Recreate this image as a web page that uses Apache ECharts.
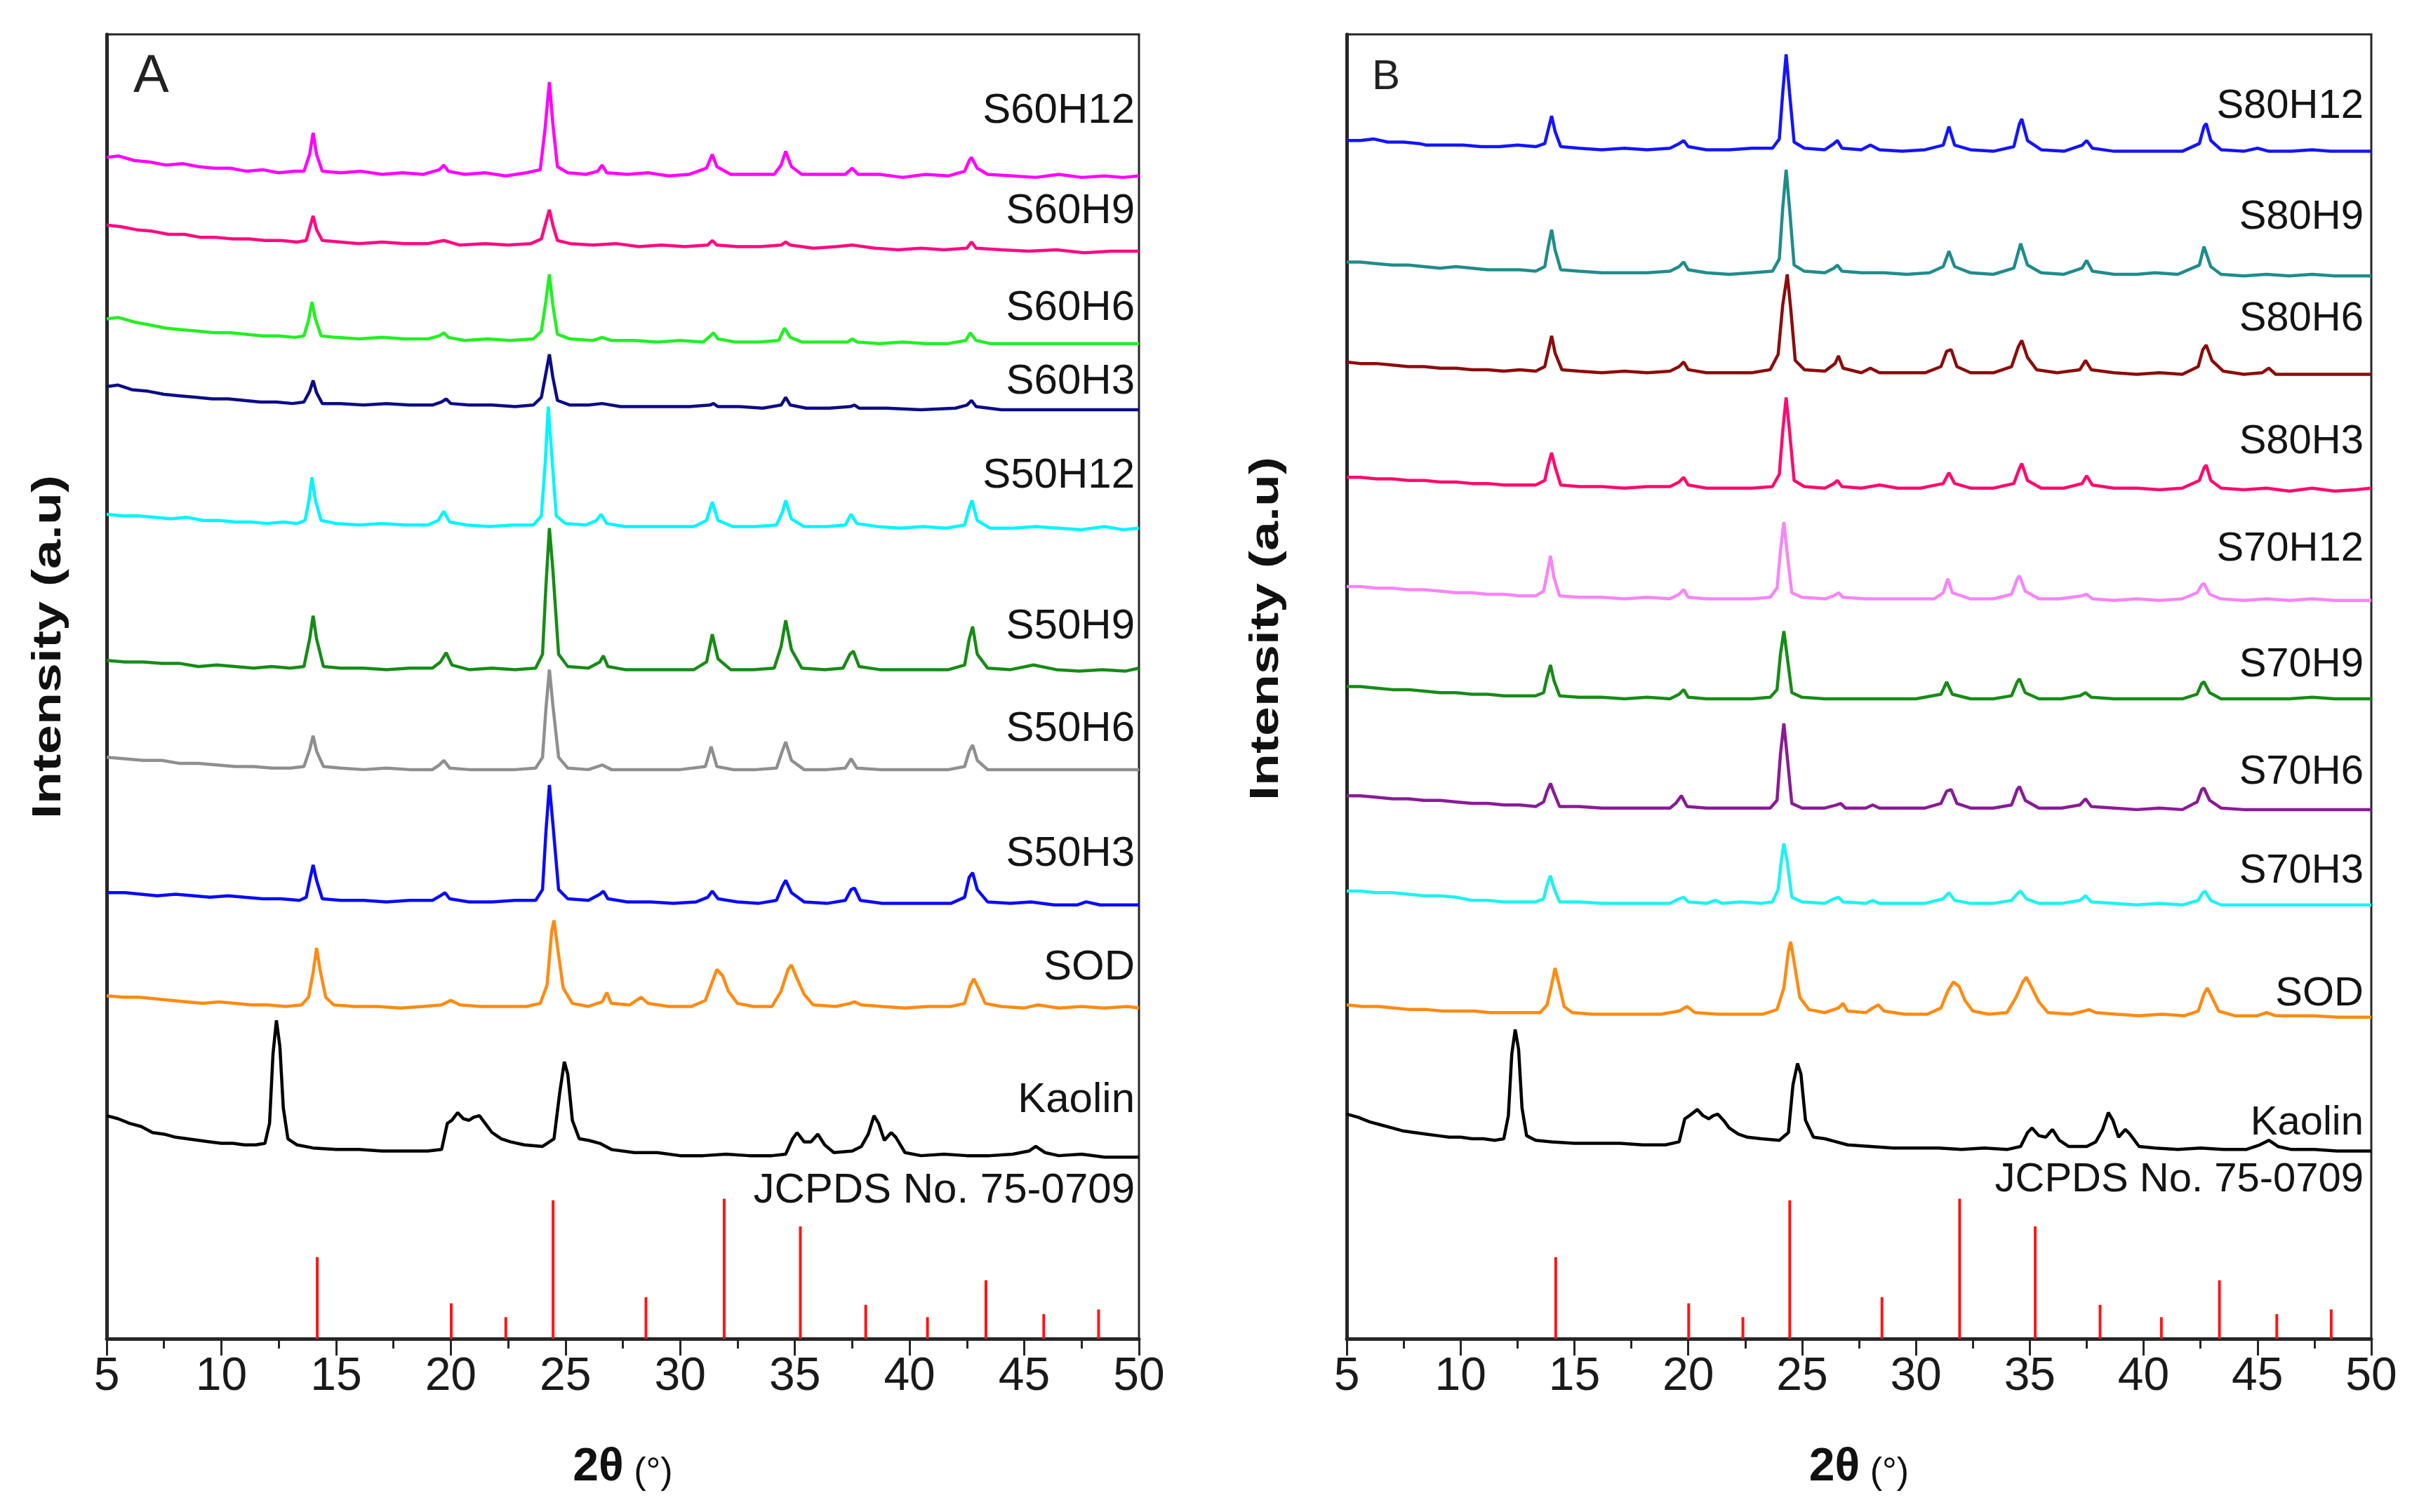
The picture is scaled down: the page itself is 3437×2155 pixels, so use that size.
<!DOCTYPE html>
<html>
<head>
<meta charset="utf-8">
<script src="https://cdn.jsdelivr.net/npm/echarts@6.0.0/dist/echarts.min.js"></script>
<style>
  html, body { margin: 0; padding: 0; background: #fff; }
  #main { width: 3437px; height: 2155px; }
</style>
</head>
<body>
<div id="main"></div>
<script>
// ---- panel A patterns: [2theta, intensity (a.u., stacked)] ----
const s60h12 = [[5,768],[5.5,769],[6.2,766],[6.9,765],[7.6,763],[8.3,764],[9,762],[9.7,761],[10.4,761],[11.1,759],[11.8,760],[12.5,758],[13.2,759],[13.6,759],[13.85,770],[14.0,784],[14.15,770],[14.4,759],[15.2,758],[16.1,759],[17,757],[17.9,758],[18.8,757],[19.5,760],[19.7,763],[19.9,759],[20.6,757],[21.5,758],[22.4,756],[23.3,758],[23.9,760],[24.1,785],[24.3,817],[24.45,790],[24.65,762],[25.1,758],[25.9,757],[26.4,759],[26.6,763],[26.8,758],[27.7,757],[28.6,758],[29.5,756],[30.4,757],[31.15,761],[31.4,770],[31.6,762],[32.2,757],[33.2,757],[34.1,757],[34.4,763],[34.6,772],[34.85,762],[35.3,757],[36.3,757],[37.2,757],[37.5,761],[37.75,757],[38.7,757],[39.7,755],[40.7,757],[41.7,756],[42.4,759],[42.6,766],[42.7,768],[42.95,761],[43.4,757],[44.5,756],[45.5,755],[46.5,757],[47.5,755],[48.5,756],[49.3,755],[50,756]];
const s60h9 = [[5,724],[5.6,723],[6.3,721],[7,720],[7.7,718],[8.4,718],[9.1,716],[9.8,716],[10.5,715],[11.2,715],[11.9,714],[12.6,714],[13.3,713],[13.7,714],[13.85,722],[14.0,730],[14.15,721],[14.4,714],[15.2,713],[16,712],[17,713],[18,712],[19,712],[19.7,714],[20.4,711],[21.5,712],[22.5,711],[23.5,712],[23.95,715],[24.15,726],[24.3,734],[24.45,724],[24.65,714],[25.2,712],[26.2,711],[27.2,712],[28.2,710],[29.2,711],[30.2,710],[31.2,711],[31.4,714],[31.6,711],[32.5,710],[33.5,710],[34.4,711],[34.6,713],[34.8,711],[35.8,709],[36.8,710],[37.5,711],[38.5,709],[39.5,708],[40.5,709],[41.5,708],[42.5,709],[42.7,713],[42.9,709],[44,708],[45.2,707],[46.4,708],[47.6,706],[48.8,707],[50,707]];
const s60h6 = [[5,663],[5.5,664],[6.2,661],[6.9,659],[7.6,657],[8.3,656],[9,655],[9.7,654],[10.4,654],[11.1,653],[11.8,652],[12.5,652],[13.2,651],[13.6,652],[13.8,662],[13.95,674],[14.1,663],[14.35,652],[15,651],[16,650],[17,651],[18,650],[19,650],[19.5,652],[19.7,654],[19.9,651],[20.6,649],[21.6,650],[22.6,649],[23.6,650],[23.95,655],[24.15,675],[24.3,692],[24.45,672],[24.65,653],[25.2,650],[26.2,649],[26.6,651],[27,649],[28,649],[29,648],[30,649],[31,648],[31.25,651],[31.45,654],[31.65,650],[32.4,648],[33.4,648],[34.3,649],[34.55,657],[34.8,651],[35.3,648],[36.3,648],[37.3,648],[37.5,650],[37.7,648],[38.7,647],[39.7,648],[40.7,647],[41.7,647],[42.45,649],[42.65,654],[42.9,649],[43.5,647],[44.5,647],[46,647],[47.5,647],[49,647],[50,647]];
const s60h3 = [[5,619],[5.5,620],[6.1,617],[6.8,616],[7.5,614],[8.2,613],[8.9,612],[9.6,611],[10.3,611],[11,610],[11.7,609],[12.4,609],[13.1,608],[13.6,609],[13.85,616],[14.0,623],[14.15,615],[14.4,608],[15.2,608],[16.2,607],[17.2,608],[18.2,607],[19.2,607],[19.6,609],[19.8,611],[20,608],[20.8,607],[21.8,607],[22.8,606],[23.6,607],[23.95,612],[24.15,628],[24.3,640],[24.45,625],[24.65,610],[25.2,607],[26,607],[26.6,608],[27.4,606],[28.4,606],[29.4,606],[30.4,606],[31.3,607],[31.45,608],[31.65,606],[32.6,606],[33.6,605],[34.4,607],[34.6,612],[34.8,607],[35.5,605],[36.5,605],[37.4,606],[37.6,607],[37.8,605],[39,605],[40.5,604],[42,605],[42.5,607],[42.7,610],[42.9,606],[44,604],[45.5,604],[47,604],[48.5,604],[50,604]];
const s50h12 = [[5,536],[5.7,535],[6.4,535],[7.1,534],[7.8,533],[8.5,534],[9.2,532],[9.9,532],[10.6,531],[11.3,531],[12,530],[12.7,531],[13.3,530],[13.65,532],[13.82,545],[13.95,560],[14.1,545],[14.35,532],[15,530],[16,529],[17,530],[18,529],[19,529],[19.45,532],[19.7,538],[19.95,531],[20.7,529],[21.7,528],[22.7,529],[23.6,529],[23.95,535],[24.12,570],[24.25,606],[24.4,575],[24.6,535],[25,530],[25.9,529],[26.35,532],[26.55,536],[26.8,530],[27.6,528],[28.6,528],[29.6,528],[30.6,528],[31.15,532],[31.4,544],[31.65,532],[32.3,528],[33.3,528],[34.2,529],[34.45,537],[34.6,545],[34.85,533],[35.4,528],[36.4,528],[37.2,529],[37.45,536],[37.7,530],[38.6,528],[39.6,527],[40.6,528],[41.6,527],[42.4,529],[42.6,540],[42.72,545],[42.95,532],[43.5,527],[44.5,527],[45.5,528],[46.5,527],[47.5,526],[48.5,528],[49.3,526],[50,527]];
const s50h9 = [[5,441],[5.8,440],[6.6,440],[7.4,439],[8.2,439],[9,437],[9.8,438],[10.6,437],[11.4,436],[12.2,437],[13,436],[13.6,437],[13.85,455],[14.0,470],[14.15,455],[14.45,437],[15.2,436],[16.2,436],[17.2,435],[18.2,436],[19.2,436],[19.55,440],[19.8,446],[20.05,438],[20.8,435],[21.8,436],[22.8,435],[23.7,436],[24.0,445],[24.15,490],[24.3,527],[24.45,500],[24.7,445],[25.1,437],[26,436],[26.5,440],[26.65,444],[26.85,437],[27.6,435],[28.6,435],[29.6,435],[30.6,435],[31.15,440],[31.4,458],[31.65,442],[32.2,435],[33.2,435],[34.1,436],[34.4,450],[34.6,467],[34.85,448],[35.3,436],[36.3,435],[37.1,436],[37.4,445],[37.55,447],[37.8,437],[38.7,435],[39.7,435],[40.7,435],[41.7,435],[42.4,438],[42.6,455],[42.75,463],[42.95,445],[43.4,436],[44.4,435],[45.4,438],[46.4,435],[47.4,434],[48.4,435],[49.4,434],[50,436]];
const s50h6 = [[5,378],[5.8,377],[6.6,376],[7.4,376],[8.2,374],[9,374],[9.8,373],[10.6,372],[11.4,372],[12.2,371],[13,371],[13.6,372],[13.85,383],[14.0,392],[14.15,382],[14.45,372],[15.2,371],[16.2,370],[17.2,371],[18.2,370],[19.2,370],[19.5,373],[19.7,376],[19.95,371],[20.8,370],[21.8,370],[22.8,370],[23.7,371],[24.0,378],[24.15,410],[24.3,435],[24.45,412],[24.7,378],[25.1,371],[26,370],[26.6,373],[27,370],[28,370],[29,370],[30,370],[31.1,372],[31.35,385],[31.6,372],[32.3,370],[33.3,370],[34.2,371],[34.45,382],[34.6,388],[34.85,376],[35.4,370],[36.4,370],[37.2,371],[37.45,377],[37.7,371],[38.7,370],[39.7,370],[40.7,370],[41.7,370],[42.4,372],[42.6,382],[42.75,386],[42.95,376],[43.4,370],[44.4,370],[45.5,370],[46.6,370],[47.7,370],[48.8,370],[50,370]];
const s50h3 = [[5,290],[5.8,290],[6.5,289],[7.2,288],[8,289],[8.8,288],[9.5,287],[10.3,288],[11,287],[11.8,286],[12.6,286],[13.4,285],[13.7,287],[13.85,298],[14.0,308],[14.15,298],[14.4,286],[15.2,285],[16.2,285],[17.2,284],[18.2,285],[19.2,285],[19.55,288],[19.75,290],[19.95,286],[20.8,284],[21.8,284],[22.8,285],[23.7,285],[24.0,292],[24.15,330],[24.3,360],[24.45,335],[24.7,292],[25.1,286],[26,285],[26.5,289],[26.65,291],[26.85,286],[27.7,284],[28.7,284],[29.7,283],[30.7,284],[31.2,287],[31.4,291],[31.65,286],[32.5,284],[33.4,283],[34.2,285],[34.45,294],[34.6,298],[34.85,290],[35.4,284],[36.4,283],[37.2,285],[37.45,292],[37.6,293],[37.85,285],[38.8,283],[39.8,283],[40.8,283],[41.8,283],[42.4,287],[42.6,300],[42.75,303],[42.95,292],[43.4,284],[44.4,283],[45.3,284],[46.3,282],[47.3,282],[47.7,284],[48.3,282],[49.2,282],[50,282]];
const sodA = [[5,223],[5.7,222],[6.4,222],[7.1,221],[7.8,220],[8.5,219],[9.2,218],[9.9,219],[10.6,218],[11.3,217],[12,217],[12.8,216],[13.5,217],[13.8,222],[14.0,238],[14.15,254],[14.3,240],[14.55,222],[14.9,217],[15.8,216],[16.8,216],[17.8,215],[18.8,216],[19.6,217],[20.0,220],[20.4,217],[21.3,216],[22.3,216],[23.3,216],[23.9,218],[24.2,230],[24.4,265],[24.5,272],[24.65,255],[24.9,228],[25.3,218],[26.0,216],[26.6,219],[26.8,225],[27.0,218],[27.8,217],[28.1,220],[28.3,222],[28.6,218],[29.5,216],[30.5,216],[31.1,220],[31.4,232],[31.6,240],[31.85,236],[32.1,226],[32.5,218],[33.2,216],[34.0,216],[34.4,226],[34.7,240],[34.85,243],[35.1,234],[35.4,224],[35.8,217],[36.8,216],[37.4,218],[37.6,219],[37.9,217],[38.8,216],[39.8,215],[40.8,216],[41.8,216],[42.4,218],[42.65,230],[42.8,234],[43.0,228],[43.3,218],[44,216],[45,215],[45.6,217],[46.5,215],[47.5,216],[48.5,215],[49.5,216],[50,215]];
const kaolinA = [[5,145],[5.5,143],[6,140],[6.5,138],[7,134],[7.5,133],[8,131],[8.5,130],[9,129],[9.5,128],[10,127],[10.5,127],[11,126],[11.5,126],[11.9,127],[12.1,140],[12.25,185],[12.4,207],[12.55,190],[12.7,150],[12.9,130],[13.3,126],[14,124],[15,123],[16,123],[17,122],[18,122],[19,122],[19.6,123],[19.85,140],[20.05,142],[20.3,147],[20.55,143],[20.8,142],[21.0,144],[21.25,145],[21.5,140],[21.8,134],[22.2,130],[22.6,128],[23.2,126],[24,125],[24.5,130],[24.75,160],[24.95,180],[25.1,172],[25.3,142],[25.6,130],[26,129],[26.5,127],[27,123],[28,121],[29,121],[30,119],[31,119],[32,120],[33,119],[34,119],[34.6,120],[34.9,130],[35.1,134],[35.4,128],[35.7,128],[36.0,133],[36.3,126],[36.7,121],[37.5,122],[37.9,125],[38.2,133],[38.45,145],[38.65,140],[38.9,129],[39.2,134],[39.4,131],[39.8,121],[40.5,119],[41.5,120],[42.5,119],[43.5,119],[44.5,120],[45.2,122],[45.5,125],[45.9,121],[46.5,119],[47.5,120],[48.5,118],[49.5,118],[50,118]];

// ---- panel B patterns ----
const s80h12 = [[5,779],[5.6,779],[6.2,780],[6.8,778],[7.5,778],[8.2,777],[8.5,776],[9.3,776],[10.1,776],[10.9,775],[11.7,775],[12.5,776],[13.3,775],[13.7,777],[13.85,786],[14.0,795],[14.15,785],[14.4,775],[15.2,774],[16.2,773],[17.2,774],[18.2,773],[19.2,774],[19.6,777],[19.8,779],[20.0,775],[20.8,773],[21.8,773],[22.8,774],[23.7,774],[24.0,780],[24.15,810],[24.3,835],[24.45,810],[24.65,778],[25.1,774],[26,773],[26.4,777],[26.55,779],[26.75,774],[27.6,773],[28,776],[28.4,773],[29.4,772],[30.4,773],[31.2,776],[31.45,788],[31.7,776],[32.4,773],[33.4,772],[34.3,775],[34.55,790],[34.65,793],[34.9,779],[35.5,773],[36.5,772],[37.3,776],[37.5,779],[37.75,774],[38.7,772],[39.7,772],[40.7,772],[41.7,772],[42.45,777],[42.65,788],[42.75,790],[42.95,779],[43.4,773],[44.4,772],[45,774],[45.5,772],[46.5,772],[47.4,773],[48.2,772],[49.2,772],[50,772]];
const s80h9 = [[5,700],[5.6,700],[6.3,699],[7,698],[7.7,698],[8.4,697],[9.1,696],[9.8,697],[10.5,696],[11.2,695],[11.9,695],[12.6,695],[13.3,694],[13.7,697],[13.85,710],[14.0,721],[14.15,708],[14.4,695],[15.2,694],[16.2,693],[17.2,693],[18.2,693],[19.2,694],[19.6,697],[19.8,700],[20.0,695],[20.8,693],[21.8,692],[22.8,693],[23.7,694],[24.0,702],[24.15,735],[24.3,760],[24.45,735],[24.65,698],[25.1,694],[26,693],[26.4,696],[26.55,698],[26.75,694],[27.6,693],[28.6,693],[29.6,692],[30.6,693],[31.2,697],[31.45,707],[31.7,697],[32.4,693],[33.4,692],[34.3,696],[34.6,712],[34.9,698],[35.5,693],[36.5,692],[37.3,696],[37.5,701],[37.75,694],[38.7,692],[39.7,692],[40.5,693],[41.5,692],[42.45,698],[42.65,710],[42.95,697],[43.4,692],[44.4,691],[45.4,692],[46.4,691],[47.4,692],[48.4,691],[49.2,691],[50,691]];
const s80h6 = [[5,635],[5.6,634],[6.3,634],[7,633],[7.7,632],[8.4,632],[9.1,631],[9.8,631],[10.5,630],[11.2,630],[11.9,629],[12.6,630],[13.3,629],[13.7,632],[13.85,642],[14.0,652],[14.15,641],[14.45,630],[15.2,629],[16.2,628],[17.2,629],[18.2,628],[19.2,629],[19.6,632],[19.8,635],[20.0,630],[20.8,628],[21.8,628],[22.8,628],[23.6,630],[23.95,640],[24.15,672],[24.35,692],[24.5,670],[24.7,636],[25.1,630],[26,629],[26.45,634],[26.6,639],[26.8,631],[27.6,628],[28,631],[28.4,628],[29.4,628],[30.4,628],[31.1,632],[31.35,642],[31.55,643],[31.8,632],[32.4,628],[33.4,628],[34.2,632],[34.5,645],[34.65,649],[34.9,638],[35.3,630],[36.2,628],[37.2,630],[37.45,636],[37.7,630],[38.7,628],[39.7,627],[40.7,628],[41.7,627],[42.4,632],[42.6,643],[42.75,646],[43.0,636],[43.5,629],[44.4,627],[45.2,628],[45.5,631],[45.8,627],[46.8,627],[47.8,627],[48.8,627],[50,627]];
const s80h3 = [[5,560],[5.6,560],[6.3,559],[7,559],[7.7,558],[8.4,558],[9.1,557],[9.8,557],[10.5,556],[11.2,556],[11.9,555],[12.6,555],[13.3,555],[13.7,558],[13.85,568],[14.0,576],[14.15,567],[14.4,555],[15.2,554],[16.2,554],[17.2,553],[18.2,554],[19.2,554],[19.6,557],[19.8,560],[20.0,555],[20.8,553],[21.8,553],[22.8,553],[23.7,554],[24.0,562],[24.15,590],[24.3,612],[24.45,590],[24.65,558],[25.1,554],[26,553],[26.4,556],[26.55,558],[26.75,554],[27.6,553],[28.4,555],[29.2,553],[30.2,553],[31.2,556],[31.45,563],[31.7,556],[32.4,553],[33.4,553],[34.3,556],[34.55,566],[34.65,569],[34.9,558],[35.5,553],[36.5,553],[37.3,556],[37.5,561],[37.75,555],[38.7,553],[39.7,553],[40.7,552],[41.7,553],[42.45,558],[42.65,566],[42.75,568],[42.95,558],[43.4,553],[44.4,552],[45.4,553],[46.4,551],[47.4,553],[48.4,551],[49.3,552],[50,553]];
const s70h12 = [[5,489],[5.6,489],[6.3,488],[7,488],[7.7,487],[8.4,487],[9.1,486],[9.8,485],[10.5,485],[11.2,484],[11.9,484],[12.6,483],[13.3,483],[13.65,486],[13.8,497],[13.95,509],[14.1,495],[14.35,483],[15.2,482],[16.2,482],[17.2,481],[18.2,482],[19.2,481],[19.6,484],[19.8,487],[20.0,482],[20.8,481],[21.8,481],[22.8,481],[23.6,482],[23.9,488],[24.05,512],[24.2,531],[24.35,510],[24.55,485],[25,482],[26,481],[26.4,483],[26.6,485],[26.8,482],[27.8,481],[28.8,481],[29.8,481],[30.8,481],[31.2,485],[31.4,494],[31.6,485],[32.4,481],[33.4,481],[34.2,484],[34.45,494],[34.55,496],[34.8,486],[35.4,481],[36.3,481],[37.3,483],[37.5,484],[37.75,481],[38.7,480],[39.7,481],[40.7,480],[41.7,481],[42.35,485],[42.55,490],[42.65,491],[42.9,484],[43.4,481],[44.4,480],[45.4,481],[46.4,480],[47.4,481],[48.4,480],[49.3,480],[50,480]];
const s70h9 = [[5,424],[5.6,424],[6.3,423],[7,422],[7.7,422],[8.4,421],[9.1,420],[9.8,420],[10.5,419],[11.2,419],[11.9,418],[12.6,418],[13.3,418],[13.65,420],[13.8,430],[13.95,438],[14.1,428],[14.35,418],[15.2,417],[16.2,417],[17.2,416],[18.2,417],[19.2,416],[19.6,419],[19.8,422],[20.0,417],[20.8,416],[21.8,416],[22.8,416],[23.6,417],[23.9,422],[24.05,445],[24.2,460],[24.35,443],[24.55,420],[25,417],[26,416],[27,416],[28,416],[29,416],[30,416],[31.1,419],[31.35,427],[31.6,419],[32.4,416],[33.4,416],[34.2,418],[34.45,427],[34.55,429],[34.8,420],[35.4,416],[36.4,416],[37.2,418],[37.45,420],[37.7,417],[38.7,416],[39.7,416],[40.7,416],[41.7,416],[42.35,419],[42.55,426],[42.65,427],[42.9,420],[43.4,416],[44.4,416],[45.4,416],[46.4,416],[47.4,417],[48.4,416],[49.3,416],[50,416]];
const s70h6 = [[5,353],[5.6,353],[6.3,352],[7,351],[7.7,351],[8.4,350],[9.1,350],[9.8,349],[10.5,348],[11.2,348],[11.9,347],[12.6,347],[13.3,346],[13.65,349],[13.8,356],[13.95,361],[14.1,355],[14.35,346],[15.2,346],[16.2,345],[17.2,345],[18.2,345],[19.2,345],[19.45,348],[19.7,353],[19.95,346],[20.8,345],[21.8,345],[22.8,345],[23.6,345],[23.9,350],[24.05,380],[24.2,400],[24.35,378],[24.55,348],[25,345],[26,345],[26.5,347],[26.7,348],[26.9,345],[27.8,345],[28.1,347],[28.4,345],[29.4,345],[30.4,345],[31.1,348],[31.35,356],[31.55,357],[31.8,348],[32.4,345],[33.4,345],[34.2,347],[34.45,357],[34.55,359],[34.8,350],[35.4,345],[36.4,345],[37.2,347],[37.45,351],[37.7,346],[38.7,345],[39.7,344],[40.7,345],[41.7,344],[42.35,349],[42.55,357],[42.65,358],[42.9,350],[43.4,345],[44.4,344],[45.4,344],[46.4,344],[47.4,344],[48.4,344],[49.3,344],[50,344]];
const s70h3 = [[5,291],[5.6,291],[6.3,290],[7,290],[7.7,289],[8.4,288],[9.1,288],[9.8,287],[10.5,285],[11.2,285],[11.9,284],[12.6,284],[13.3,284],[13.65,286],[13.8,295],[13.95,301],[14.1,293],[14.35,284],[15.2,284],[16.2,283],[17.2,283],[18.2,283],[19.2,283],[19.6,286],[19.8,287],[20.0,284],[20.8,283],[21.2,285],[21.5,283],[22.3,284],[23.2,283],[23.7,284],[23.95,292],[24.1,312],[24.2,322],[24.35,310],[24.55,287],[25,284],[26,283],[26.4,286],[26.6,287],[26.8,284],[27.8,283],[28.1,285],[28.4,283],[29.4,283],[30.4,283],[31.2,286],[31.45,290],[31.7,285],[32.4,283],[33.4,283],[34.2,285],[34.5,290],[34.6,291],[34.85,286],[35.4,283],[36.4,283],[37.2,285],[37.45,288],[37.7,284],[38.7,283],[39.7,282],[40.7,283],[41.7,282],[42.4,285],[42.6,290],[42.7,291],[42.95,285],[43.4,282],[44.4,282],[45.4,282],[46.4,282],[47.4,282],[48.4,282],[49.3,282],[50,282]];
const sodB = [[5,217],[5.7,216],[6.4,216],[7.1,215],[7.8,214],[8.5,214],[9.2,213],[9.9,213],[10.6,213],[11.3,212],[12,212],[12.8,212],[13.5,212],[13.8,217],[14.0,230],[14.15,241],[14.3,232],[14.55,216],[14.9,212],[15.8,211],[16.8,211],[17.8,211],[18.8,211],[19.6,213],[19.95,216],[20.3,212],[21.3,211],[22.3,211],[23.3,211],[23.9,214],[24.2,228],[24.4,252],[24.5,258],[24.65,245],[24.9,222],[25.3,214],[26.0,212],[26.6,215],[26.8,218],[27.0,213],[27.8,212],[28.1,215],[28.35,217],[28.6,213],[29.5,211],[30.5,211],[31.1,215],[31.4,226],[31.65,232],[31.9,229],[32.15,220],[32.5,213],[33.2,211],[34.0,212],[34.4,222],[34.7,232],[34.85,235],[35.1,228],[35.4,219],[35.8,212],[36.8,211],[37.4,213],[37.6,214],[37.9,212],[38.8,211],[39.8,210],[40.8,211],[41.8,210],[42.4,213],[42.65,224],[42.8,228],[43.0,222],[43.3,213],[44,210],[45,210],[45.4,212],[45.8,210],[46.5,210],[47.5,210],[48.5,209],[49.5,209],[50,209]];
const kaolinB = [[5,146],[5.5,144],[6,141],[6.5,139],[7,137],[7.5,135],[8,134],[8.5,133],[9,132],[9.5,131],[10,131],[10.5,130],[11,130],[11.5,129],[11.9,130],[12.1,145],[12.25,185],[12.4,201],[12.55,188],[12.7,150],[12.9,132],[13.3,129],[14,128],[15,127],[16,127],[17,127],[18,126],[19,126],[19.6,128],[19.85,143],[20.05,145],[20.4,149],[20.65,145],[20.9,143],[21.1,145],[21.3,146],[21.55,142],[21.8,137],[22.2,133],[22.6,131],[23.2,130],[24,129],[24.4,134],[24.6,165],[24.8,179],[24.95,172],[25.15,142],[25.5,131],[26,130],[26.5,128],[27,126],[28,125],[29,124],[30,124],[31,124],[32,123],[33,124],[34,123],[34.6,125],[34.9,134],[35.1,137],[35.4,132],[35.7,131],[36.0,136],[36.3,129],[36.7,125],[37.5,125],[37.9,128],[38.2,136],[38.45,147],[38.65,142],[38.9,131],[39.2,136],[39.4,133],[39.8,125],[40.5,124],[41.5,123],[42.5,124],[43.5,123],[44.5,123],[45.1,126],[45.5,129],[45.9,125],[46.5,123],[47.5,123],[48.5,122],[49.5,122],[50,122]];

// ---- JCPDS No. 75-0709 reference lines ----
const jcpdsPos = [14.18, 20.02, 22.40, 24.46, 28.51, 31.92, 35.24, 38.09, 40.78, 43.33, 45.85, 48.24];
const jcpdsInt = [53, 23, 14, 90, 27, 91, 73, 22, 14, 38, 16, 19];

// ---- names and label heights ----
const namesA = ['S60H12', 'S60H9', 'S60H6', 'S60H3', 'S50H12', 'S50H9', 'S50H6', 'S50H3', 'SOD', 'Kaolin'];
const namesB = ['S80H12', 'S80H9', 'S80H6', 'S80H3', 'S70H12', 'S70H9', 'S70H6', 'S70H3', 'SOD', 'Kaolin'];
const labelYA = [798, 733, 670, 622, 561, 463, 396, 315, 241, 155, 96];
const labelYB = [801, 729, 663, 583, 513, 438, 368, 304, 224, 140, 103];
const refName = 'JCPDS No. 75-0709';

const dataA = [s60h12, s60h9, s60h6, s60h3, s50h12, s50h9, s50h6, s50h3, sodA, kaolinA];
const dataB = [s80h12, s80h9, s80h6, s80h3, s70h12, s70h9, s70h6, s70h3, sodB, kaolinB];

const colorsA = ['#ff00ff', '#ff0a82', '#22f022', '#0c0c86', '#00f5ff', '#168c16', '#8f8f8f', '#0a0aff', '#ff8a12', '#000000'];
const colorsB = ['#1414ff', '#1f8c8c', '#8c0c0c', '#ff0a6e', '#f884f8', '#168c16', '#8a1a98', '#1ef2f2', '#ff8a12', '#000000'];

const chart = echarts.init(document.getElementById('main'), null, { renderer: 'canvas' });

const FONT = '"Liberation Sans", Arial, sans-serif';
const INK = '#262626';

function xAxisFor(i) {
  return {
    gridIndex: i, type: 'value', min: 5, max: 50, interval: 5,
    axisLine: { show: true, onZero: false, lineStyle: { color: INK, width: 5 } },
    axisTick: { show: true, inside: false, length: 24, lineStyle: { color: INK, width: 3 } },
    minorTick: { show: true, splitNumber: 2, length: 14, lineStyle: { color: INK, width: 3 } },
    splitLine: { show: false },
    axisLabel: { fontSize: 66, fontFamily: FONT, color: '#1a1a1a', margin: 22, showMinLabel: true, showMaxLabel: true },
    name: '{a|2θ}{b| (°)}', nameLocation: 'middle', nameGap: 150,
    nameTextStyle: {
      rich: {
        a: { fontSize: 66, fontWeight: 'bold', fontFamily: FONT, color: '#111' },
        b: { fontSize: 52, fontFamily: FONT, color: '#111', padding: [16, 0, 0, 0] }
      }
    }
  };
}
function yAxisFor(i) {
  return {
    gridIndex: i, type: 'value', min: 0, max: 848,
    axisLine: { show: true, lineStyle: { color: INK, width: 5 } },
    axisTick: { show: false }, axisLabel: { show: false }, splitLine: { show: false }
  };
}

function panelSeries(idx, data, names, colors, labelY) {
  const out = data.map((d, k) => ({
    name: names[k] + (idx ? ' B' : ' A'),
    type: 'line', xAxisIndex: idx, yAxisIndex: idx,
    data: d, showSymbol: false, symbol: 'none', smooth: false,
    lineStyle: { color: colors[k], width: 4.5 },
    z: 3, silent: true
  }));
  out.push({
    type: 'bar', xAxisIndex: idx, yAxisIndex: idx, barWidth: 4,
    data: jcpdsPos.map((x, k) => [x, jcpdsInt[k]]),
    itemStyle: { color: '#ff1414' }, silent: true, z: 2
  });
  out.push({
    type: 'scatter', xAxisIndex: idx, yAxisIndex: idx, symbolSize: 2,
    itemStyle: { color: 'rgba(255,255,255,0)' }, silent: true, z: 6,
    data: names.concat([refName]).map((t, k) => ({ name: t, value: [50, labelY[k]] })),
    label: {
      show: true, position: 'left', distance: idx ? 10 : 5, formatter: '{b}',
      fontSize: idx ? 58 : 60, fontFamily: FONT, color: '#141414', opacity: 1
    },
    labelLayout: { hideOverlap: false }
  });
  return out;
}

chart.setOption({
  animation: false,
  backgroundColor: '#ffffff',
  grid: [
    { left: 152, right: 1814, top: 49, bottom: 247, show: true, borderColor: INK, borderWidth: 3, outerBoundsMode: 'none' },
    { left: 1919, right: 58, top: 49, bottom: 247, show: true, borderColor: INK, borderWidth: 3, outerBoundsMode: 'none' }
  ],
  xAxis: [xAxisFor(0), xAxisFor(1)],
  yAxis: [yAxisFor(0), yAxisFor(1)],
  graphic: [
    { type: 'text', x: 70, y: 922, rotation: Math.PI / 2, scaleX: 1.3,
      style: { text: 'Intensity (a.u)', font: 'bold 58px ' + FONT, fill: '#111', textAlign: 'center', textVerticalAlign: 'middle' } },
    { type: 'text', x: 1805, y: 896, rotation: Math.PI / 2, scaleX: 1.3,
      style: { text: 'Intensity (a.u)', font: 'bold 58px ' + FONT, fill: '#111', textAlign: 'center', textVerticalAlign: 'middle' } },
    { type: 'text', left: 190, top: 72, style: { text: 'A', font: '76px ' + FONT, fill: '#222' } },
    { type: 'text', left: 1955, top: 80, style: { text: 'B', font: '60px ' + FONT, fill: '#222' } }
  ],
  series: panelSeries(0, dataA, namesA, colorsA, labelYA).concat(panelSeries(1, dataB, namesB, colorsB, labelYB))
});
</script>
</body>
</html>
